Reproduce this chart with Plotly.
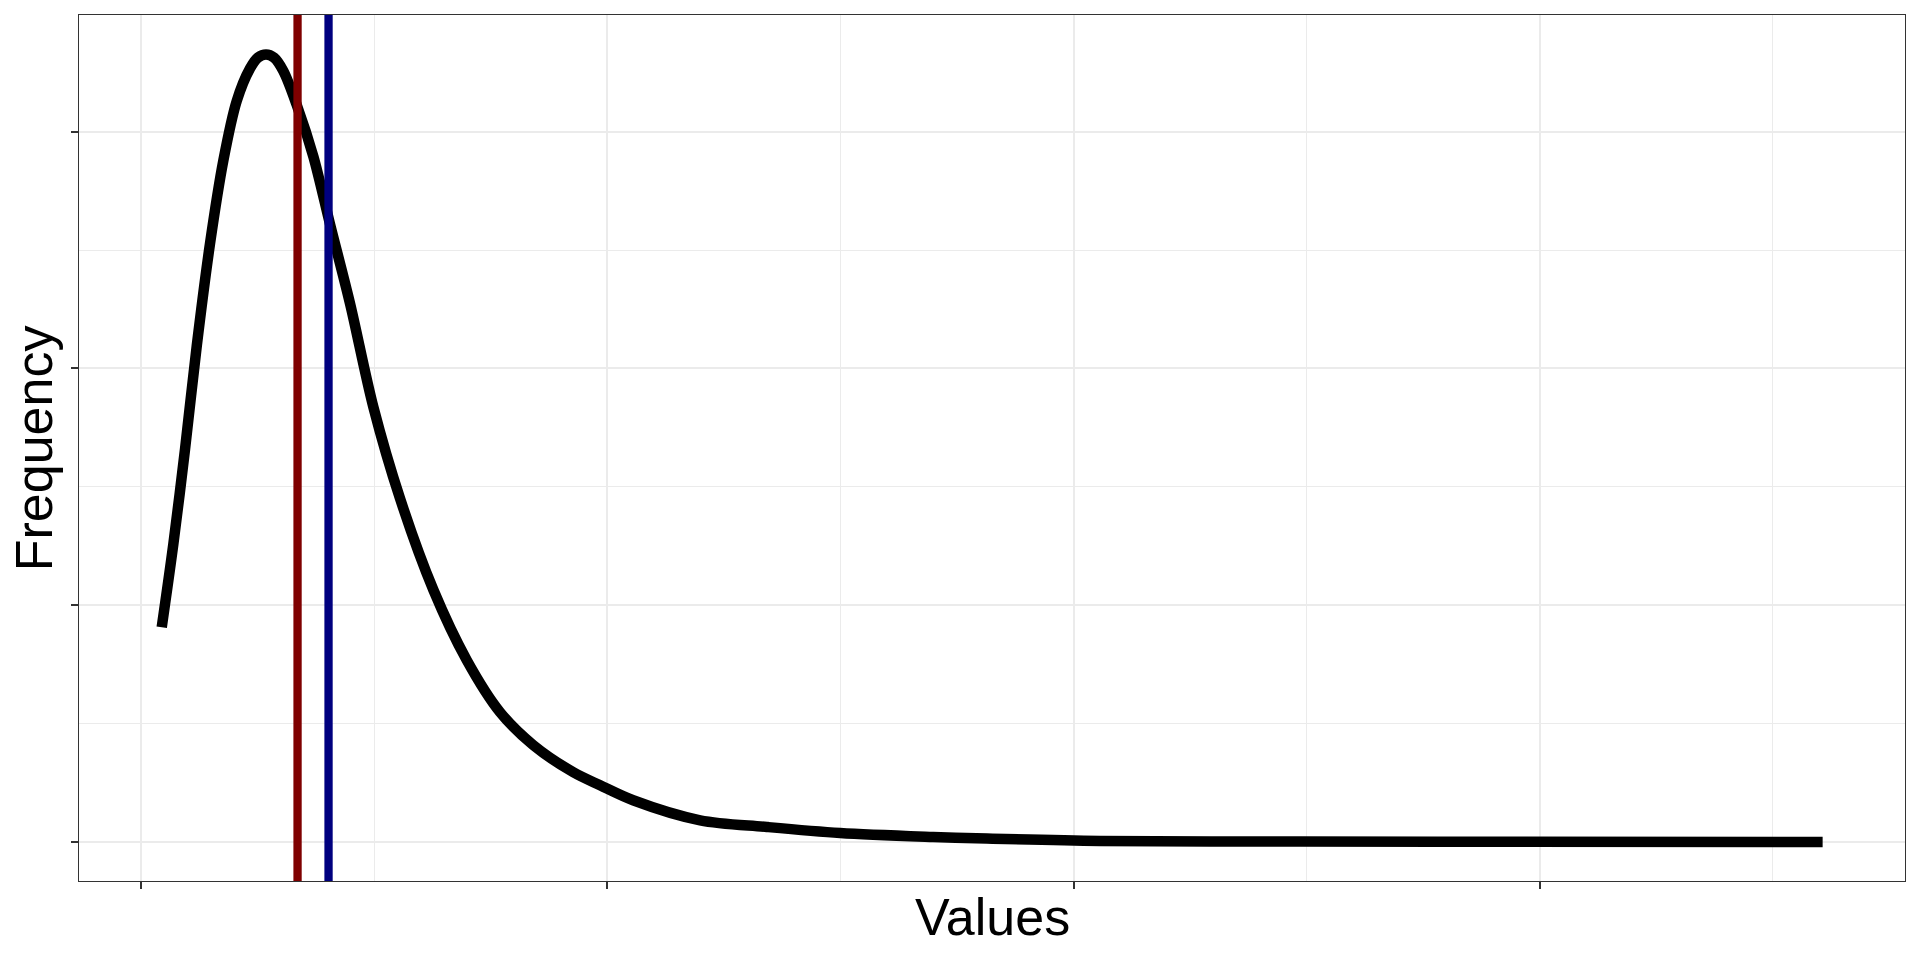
import plotly.graph_objects as go

# Density curve (x in value units, y in frequency/density units)
curve_x = [0.438, 0.687, 0.938, 1.189, 1.474, 1.760, 2.047, 2.333, 2.504, 2.676,
           2.848, 3.047, 3.335, 3.691, 4.053, 4.479, 4.979, 5.552, 6.266, 6.983,
           7.697, 8.412, 9.270, 9.843, 10.552, 11.990, 13.421, 14.994, 16.989, 18.142,
           20.573, 24.865, 29.157, 36.073]
curve_y = [0.04535, 0.06289, 0.08295, 0.10471, 0.12636, 0.14390, 0.15647, 0.16335, 0.16565, 0.16629,
           0.16561, 0.16280, 0.15562, 0.14474, 0.13029, 0.11367, 0.09183, 0.07250, 0.05323, 0.03838,
           0.02740, 0.02043, 0.01472, 0.01198, 0.00881, 0.00458, 0.00317, 0.00190, 0.00106, 0.00072,
           0.00021, 0.00010, 0.00004, 0.0]

# Reference lines (e.g. median and mean)
median_value = 3.352
mean_value = 4.017

x_major = [0, 10, 20, 30]
x_minor = [5, 15, 25, 35]
y_major = [0, 0.05, 0.10, 0.15]
y_minor = [0.025, 0.075, 0.125]

x_range = [-1.337, 37.84]
y_range = [-0.00824, 0.17463]

x_title = "Values"
y_title = "Frequency"

FONT = "Liberation Sans, Arial, Helvetica, sans-serif"
GRID = "#EBEBEB"

fig = go.Figure()
fig.add_trace(go.Scatter(
    x=curve_x, y=curve_y, mode="lines",
    line=dict(color="black", width=10.5, shape="spline", smoothing=0.9),
    showlegend=False, hoverinfo="x+y",
))

fig.add_shape(type="line", xref="x", yref="paper", x0=median_value, x1=median_value,
              y0=0, y1=1, line=dict(color="#7F0000", width=8.3), layer="above")
fig.add_shape(type="line", xref="x", yref="paper", x0=mean_value, x1=mean_value,
              y0=0, y1=1, line=dict(color="#00007F", width=8.3), layer="above")

axis_common = dict(
    showline=True, mirror=True, linecolor="#333333", linewidth=1.4,
    ticks="outside", ticklen=7, tickwidth=1.6, tickcolor="#333333",
    showticklabels=False, zeroline=False, automargin=False,
    showgrid=True, gridcolor=GRID, gridwidth=2.4,
)

fig.update_layout(
    width=1920, height=960,
    margin=dict(l=79, r=15, t=15, b=79, autoexpand=False),
    paper_bgcolor="white", plot_bgcolor="white",
    font=dict(family=FONT, color="black"),
    xaxis=dict(range=x_range, tickmode="array", tickvals=x_major,
               minor=dict(tickmode="array", tickvals=x_minor, showgrid=True,
                          gridcolor=GRID, gridwidth=1.2, ticks=""),
               **axis_common),
    yaxis=dict(range=y_range, tickmode="array", tickvals=y_major,
               minor=dict(tickmode="array", tickvals=y_minor, showgrid=True,
                          gridcolor=GRID, gridwidth=1.2, ticks=""),
               **axis_common),
    annotations=[
        dict(text=x_title, xref="paper", yref="paper", x=0.5, y=-0.0417,
             xanchor="center", yanchor="middle", showarrow=False,
             font=dict(size=52, family=FONT, color="black")),
        dict(text=y_title, xref="paper", yref="paper", x=-0.0245, y=0.5,
             xanchor="center", yanchor="middle", showarrow=False, textangle=-90,
             font=dict(size=52, family=FONT, color="black")),
    ],
)

# Remove the browser's default 8px body margin so the figure fills the window exactly
fig.write_html("out.html",
               config={"displayModeBar": False},
               post_script="document.body.style.margin='0';document.body.style.overflow='hidden';")
